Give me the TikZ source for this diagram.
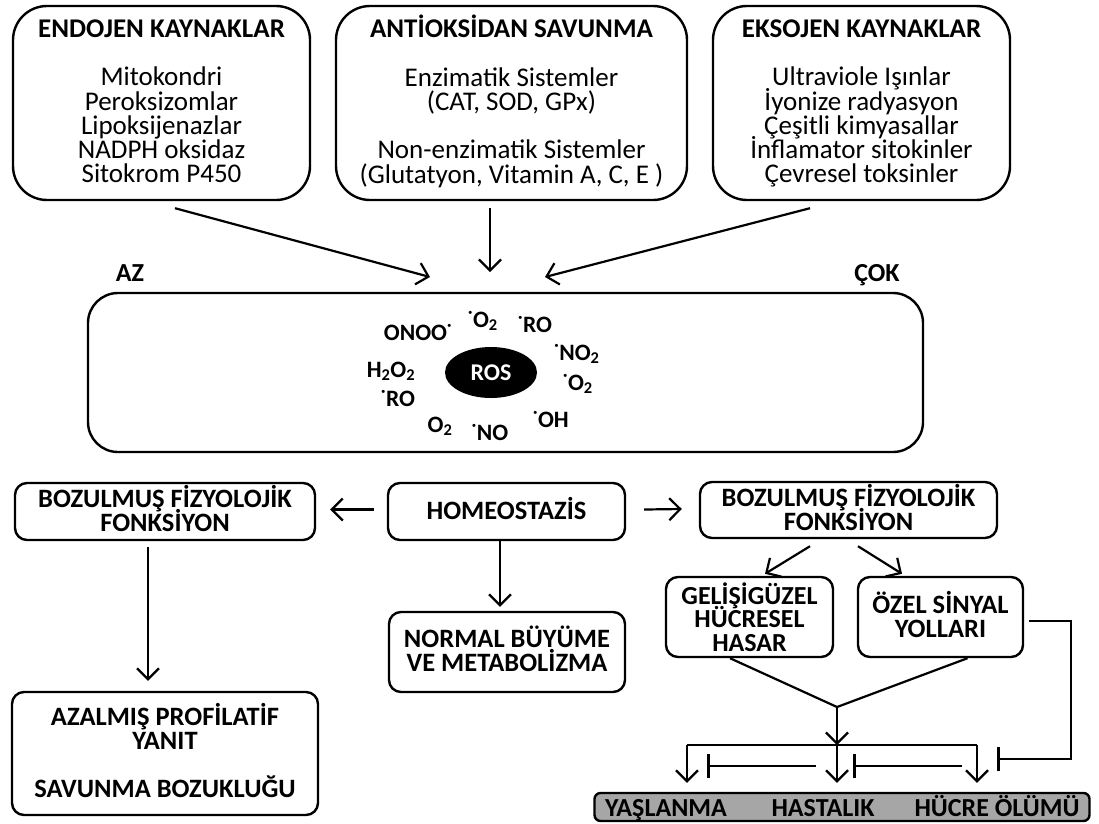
\documentclass[tikz,border=0pt]{standalone}
\usepackage{fontspec}
\setmainfont{Carlito}
\usetikzlibrary{arrows.meta,shapes.geometric,calc}
\newcommand{\rdot}{\textsuperscript{·}}
\newcommand{\hstrut}{\rule{0pt}{22pt}}
\newcommand{\dstrut}{\rule[-8pt]{0pt}{8pt}}
\newcommand{\lstrut}{\rule[-6pt]{0pt}{6pt}}
% fixed line pitch inside the boxes, whatever the accents
\newcommand{\tightlines}{\lineskiplimit=-50pt\lineskip=0pt}
\begin{document}
\begin{tikzpicture}[x=1pt,y=-1pt,
  box/.style={draw, line width=2.4pt, rounded corners=12pt, inner sep=0pt, align=center,
              font=\bfseries\fontsize{26.5}{24}\selectfont\tightlines},
  topbox/.style={box, rounded corners=34pt, font=\fontsize{27}{24.25}\selectfont\tightlines,
                 minimum width=297pt, minimum height=194pt},
  arr/.style={line width=2.2pt, -{Straight Barb[length=11pt,width=22pt,line width=2.2pt]}},
  inh/.style={line width=2.2pt, -{Bar[width=24pt,line width=2.6pt]}},
  plain/.style={line width=2.2pt},
  lbl/.style={font=\bfseries\fontsize{26}{26}\selectfont, inner sep=0pt},
  sp/.style={font=\bfseries\fontsize{23.5}{24}\selectfont, inner sep=0pt, anchor=base},
]
\fill[white] (0,0) rectangle (1099,823);
\useasboundingbox (0,0) rectangle (1099,823);

% sources and defence
\node[topbox] (endo) at (161.5,103)
  {\hstrut{\bfseries ENDOJEN KAYNAKLAR}\\[24.25pt]Mitokondri\\Peroksizomlar\\Lipoksijenazlar\\NADPH oksidaz\\Sitokrom P450\dstrut};
\node[topbox, minimum width=351pt] (anti) at (511.5,103)
  {\hstrut{\bfseries ANTİOKSİDAN SAVUNMA}\\[24.25pt]Enzimatik Sistemler\\(CAT, SOD, GPx)\\[24.25pt]Non-enzimatik Sistemler\\(Glutatyon, Vitamin A, C, E )\dstrut};
\node[topbox] (exo) at (861.5,103)
  {\hstrut{\bfseries EKSOJEN KAYNAKLAR}\\[24.25pt]Ultraviole Işınlar\\İyonize radyasyon\\Çeşitli kimyasallar\\İnflamator sitokinler\\Çevresel toksinler\dstrut};

% reactive species
\node[draw, line width=2.4pt, rounded corners=30pt, minimum width=835pt, minimum height=159pt] (rosbox) at (505.5,372.5) {};
\node[lbl, anchor=base] (az) at (130,281) {AZ};
\node[lbl, anchor=base] (cok) at (877,281) {ÇOK};
\node[ellipse, fill=black, minimum width=92pt, minimum height=51pt, inner sep=0pt, text=white,
      font=\bfseries\fontsize{24}{24}\selectfont] (ros) at (491,372.5) {ROS};
\node[sp] (s1) at (418,340) {ONOO\rdot};
\node[sp] (s2) at (483,327) {\rdot O\textsubscript{2}};
\node[sp] (s3) at (535,332) {\rdot RO};
\node[sp] (s4) at (577,360) {\rdot NO\textsubscript{2}};
\node[sp] (s5) at (391,377) {H\textsubscript{2}O\textsubscript{2}};
\node[sp] (s6) at (578,390) {\rdot O\textsubscript{2}};
\node[sp] (s7) at (398,406) {\rdot RO};
\node[sp] (s8) at (551,427) {\rdot OH};
\node[sp] (s9) at (440,432) {O\textsubscript{2}};
\node[sp] (s10) at (490,440) {\rdot NO};

\coordinate (inL) at (430,277);
\coordinate (inM) at (490,272);
\coordinate (inR) at (545,277);
\draw[arr] ($(endo.south)+(13.5,7)$) -- (inL);
\draw[arr] ($(anti.south)+(-21.5,7)$) -- (inM);
\draw[arr] ($(exo.south)+(-51.5,7)$) -- (inR);

% outcomes
\node[box, minimum width=300pt, minimum height=57pt] (bozL) at (165,511.5) {BOZULMUŞ FİZYOLOJİK\\FONKSİYON\lstrut};
\node[box, minimum width=237pt, minimum height=57pt] (homeo) at (506.5,511.5) {HOMEOSTAZİS\lstrut};
\node[box, minimum width=297pt, minimum height=56pt] (bozR) at (848.5,510) {BOZULMUŞ FİZYOLOJİK\\FONKSİYON\lstrut};
\node[box, minimum width=236pt, minimum height=80pt] (normal) at (507,652) {NORMAL BÜYÜME\\VE METABOLİZMA\lstrut};
\node[box, minimum width=306pt, minimum height=123pt] (azal) at (165,753.5) {AZALMIŞ PROFİLATİF\\YANIT\\[24pt]SAVUNMA BOZUKLUĞU\lstrut};
\node[box, minimum width=167pt, minimum height=80pt, font=\bfseries\fontsize{26}{23.5}\selectfont\tightlines] (gel) at (749.5,617) {GELİŞİGÜZEL\\HÜCRESEL\\HASAR};
\node[box, minimum width=165pt, minimum height=80pt] (ozel) at (940.5,617) {ÖZEL SİNYAL\\YOLLARI\lstrut};
\node[box, rounded corners=6pt, fill=black!35, minimum width=495pt, minimum height=28pt] (outc) at (842,807) {};
\node[lbl, anchor=base] (yas) at (666,816) {YAŞLANMA};
\node[lbl, anchor=base] (has) at (823,816) {HASTALIK};
\node[lbl, anchor=base] (hol) at (997,816) {HÜCRE ÖLÜMÜ};

\draw[arr] ($(homeo.west)+(-13,-2)$) -- ($(bozL.east)+(14,-2)$);
\draw[arr] ($(homeo.east)+(18,-2)$) -- ($(bozR.west)+(-17,-1)$);
\draw[arr] ($(homeo.south)+(-6.5,0)$) -- ($(normal.north)+(-7,-4)$);
\draw[arr] ($(bozL.south)+(-17,6)$) -- ($(azal.north)+(-17,-10)$);
\draw[arr] ($(bozR.south)+(-38.5,7)$) -- ($(gel.north)+(15.5,-2)$);
\draw[arr] ($(bozR.south)+(9.5,7)$) -- ($(ozel.north)+(-38.5,-2)$);

\coordinate (mrg) at (837,707);
\coordinate (barL) at (687,745);
\coordinate (barM) at (837,745);
\coordinate (barR) at (977,745);
\draw[plain] ($(gel.south)+(-19.5,0)$) -- (mrg) -- ($(ozel.south)+(27,0)$);
\draw[arr] (mrg) -- (barM);
\draw[plain] (barL) -- (barR);
\draw[arr] (barL) -- ($(barL |- outc.north)+(0,-9)$);
\draw[arr] (barM) -- ($(barM |- outc.north)+(0,-9)$);
\draw[arr] (barR) -- ($(barR |- outc.north)+(0,-9)$);

\coordinate (i1s) at (816,766);
\coordinate (i1e) at (707,766);
\coordinate (i2s) at (962,766);
\coordinate (i2e) at (853,766);
\coordinate (brk) at (1071,759);
\coordinate (i3e) at (997,759);
\draw[inh] (i1s) -- (i1e);
\draw[inh] (i2s) -- (i2e);
\draw[inh] ($(ozel.east)+(5,4)$) -| (brk) -- (i3e);
\end{tikzpicture}
\end{document}
